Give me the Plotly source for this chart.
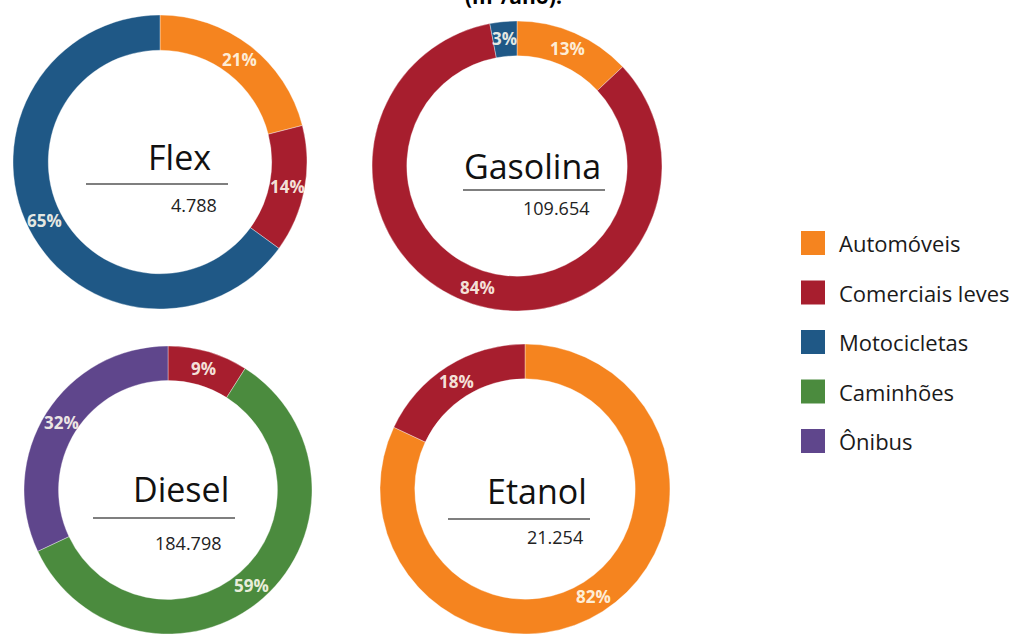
import math
import plotly.graph_objects as go

W, H = 1017, 634

# Vehicle categories and their colours
categories = ["Automóveis", "Comerciais leves", "Motocicletas", "Caminhões", "Ônibus"]
colors = {
    "Automóveis": "#F5841F",
    "Comerciais leves": "#A71E2E",
    "Motocicletas": "#1F5886",
    "Caminhões": "#4B8B3E",
    "Ônibus": "#5F468C",
}

# Fuel totals (m³/ano) and share (%) by vehicle type
fuels = ["Flex", "Gasolina", "Diesel", "Etanol"]
totals = ["4.788", "109.654", "184.798", "21.254"]

flex_labels = ["Automóveis", "Comerciais leves", "Motocicletas"]
flex_values = [21, 14, 65]

gasolina_labels = ["Automóveis", "Comerciais leves", "Motocicletas"]
gasolina_values = [13, 84, 3]

diesel_labels = ["Comerciais leves", "Caminhões", "Ônibus"]
diesel_values = [9, 59, 32]

etanol_labels = ["Automóveis", "Comerciais leves"]
etanol_values = [82, 18]

HOLE = 0.76

# Layout in pixels: donut centre, radius, and centre-text placement
panels = [
    dict(labels=flex_labels, values=flex_values, cx=160, cy=162, r=147,
         name_xy=(179, 157), line=(86, 228, 184), total_xy=(194, 205)),
    dict(labels=gasolina_labels, values=gasolina_values, cx=517, cy=166, r=145,
         name_xy=(532, 166), line=(463, 605, 190), total_xy=(556, 208)),
    dict(labels=diesel_labels, values=diesel_values, cx=168, cy=490, r=144,
         name_xy=(181, 489), line=(93, 235, 518), total_xy=(188, 543)),
    dict(labels=etanol_labels, values=etanol_values, cx=525, cy=489, r=145,
         name_xy=(537, 491), line=(448, 590, 519), total_xy=(555, 537)),
]


def px(x):
    return x / W


def py(y):
    return 1 - y / H


fig = go.Figure()
annotations = []
shapes = []

for fuel, total, p in zip(fuels, totals, panels):
    cx, cy, r = p["cx"], p["cy"], p["r"]
    fig.add_trace(go.Pie(
        labels=p["labels"],
        values=p["values"],
        hole=HOLE,
        sort=False,
        direction="clockwise",
        rotation=0,
        marker=dict(colors=[colors[c] for c in p["labels"]],
                    line=dict(color="rgba(255,255,255,0.6)", width=0.6)),
        textinfo="none",
        hoverinfo="label+value",
        showlegend=False,
        domain=dict(x=[px(cx - r), px(cx + r)], y=[py(cy + r), py(cy - r)]),
    ))

    # Percentage labels at the middle of each slice, on the ring
    total_v = sum(p["values"])
    r_mid = r * (1 + HOLE) / 2
    acc = 0
    for v in p["values"]:
        frac = (acc + v / 2) / total_v
        ang = 2 * math.pi * frac
        lx = cx + r_mid * math.sin(ang)
        ly = cy - r_mid * math.cos(ang)
        annotations.append(dict(
            text=f"<b>{v}%</b>", x=px(lx), y=py(ly), xref="paper", yref="paper",
            xanchor="center", yanchor="middle", showarrow=False,
            font=dict(family="Open Sans", size=17, color="rgba(255,252,240,0.9)"),
        ))
        acc += v

    nx, ny = p["name_xy"]
    annotations.append(dict(
        text=fuel, x=px(nx), y=py(ny), xref="paper", yref="paper",
        xanchor="center", yanchor="middle", showarrow=False,
        font=dict(family="Open Sans", size=34, color="#111111"),
    ))
    x0, x1, ly = p["line"]
    shapes.append(dict(type="line", xref="paper", yref="paper",
                       x0=px(x0), x1=px(x1), y0=py(ly), y1=py(ly),
                       line=dict(color="#555555", width=1.3)))
    tx, ty = p["total_xy"]
    annotations.append(dict(
        text=total, x=px(tx), y=py(ty), xref="paper", yref="paper",
        xanchor="center", yanchor="middle", showarrow=False,
        font=dict(family="Open Sans", size=18, color="#222222"),
    ))

# Legend: coloured squares with category names
leg_x, leg_y0, leg_dy, sq = 801, 243, 49.5, 24
for i, cat in enumerate(categories):
    yc = leg_y0 + i * leg_dy
    shapes.append(dict(type="rect", xref="paper", yref="paper",
                       x0=px(leg_x), x1=px(leg_x + sq),
                       y0=py(yc + sq / 2), y1=py(yc - sq / 2),
                       fillcolor=colors[cat], line=dict(width=0)))
    annotations.append(dict(
        text=cat, x=px(837), y=py(yc), xref="paper", yref="paper",
        xanchor="left", yanchor="middle", showarrow=False,
        font=dict(family="Open Sans", size=22, color="#1a1a1a"),
    ))

# Title line (top edge of the page)
annotations.append(dict(
    text="<b>(m³/ano).</b>", x=px(513), y=py(12), xref="paper", yref="paper",
    xanchor="center", yanchor="bottom", showarrow=False,
    font=dict(family="Open Sans", size=21, color="#000000"),
))

fig.update_layout(
    width=W, height=H,
    margin=dict(l=0, r=0, t=0, b=0),
    paper_bgcolor="white",
    plot_bgcolor="white",
    annotations=annotations,
    shapes=shapes,
)

fig.write_html("out.html")
